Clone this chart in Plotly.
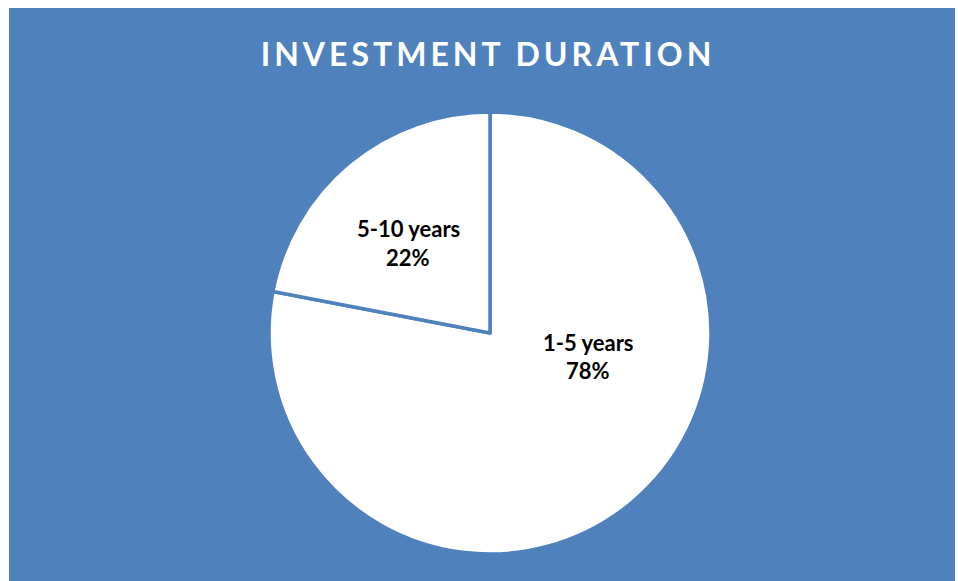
import plotly.graph_objects as go

categories = ["1-5 years", "5-10 years"]
values = [78, 22]
title_text = "INVESTMENT DURATION"

BLUE = "#4F81BD"
W, H = 958, 581

total = sum(values)
percents = [round(v / total * 100) for v in values]

fig = go.Figure()
fig.add_trace(go.Pie(
    labels=categories,
    values=values,
    sort=False,
    direction="clockwise",
    rotation=0,
    marker=dict(colors=["#FFFFFF", "#FFFFFF"], line=dict(color=BLUE, width=3.5)),
    textinfo="none",
    hoverinfo="label+percent",
    showlegend=False,
    domain=dict(x=[(490 - 221) / W, (490 + 221) / W],
                y=[(H - 554) / H, (H - 112) / H]),
))

# label positions (pixels from top-left) for each slice: name line, percent line
label_pos = [(588, 342, 371), (408, 228, 257)]
annotations = []
for cat, pct, (x, y1, y2) in zip(categories, percents, label_pos):
    annotations.append(dict(text="<b>" + cat + "</b>", x=x / W, y=1 - y1 / H,
                            xref="paper", yref="paper", showarrow=False,
                            xanchor="center", yanchor="middle",
                            font=dict(family="Lato", size=22, color="#000000")))
    annotations.append(dict(text="<b>" + f"{pct}%" + "</b>", x=x / W, y=1 - y2 / H,
                            xref="paper", yref="paper", showarrow=False,
                            xanchor="center", yanchor="middle",
                            font=dict(family="Lato", size=22, color="#000000")))

fig.update_layout(
    width=W, height=H,
    margin=dict(l=0, r=0, t=0, b=0),
    paper_bgcolor="#FFFFFF",
    plot_bgcolor="#FFFFFF",
    shapes=[dict(type="rect", xref="paper", yref="paper",
                 x0=9 / W, x1=955 / W, y0=0, y1=(H - 8) / H,
                 fillcolor=BLUE, line=dict(width=0), layer="below")],
    annotations=annotations,
    title=dict(text="<b>" + title_text + "</b>", x=488 / W, xanchor="center",
               xref="paper", yref="paper", y=1 - 55 / H, yanchor="middle",
               font=dict(family="Lato", size=32, color="#FFFFFF")),
)

post = (
    "document.body.style.margin='0';"
    "document.body.style.overflow='hidden';"
    "document.querySelectorAll('.gtitle').forEach(function(e){e.style.letterSpacing='4px';});"
)
fig.write_html("out.html", post_script=post, config={"displayModeBar": False})
